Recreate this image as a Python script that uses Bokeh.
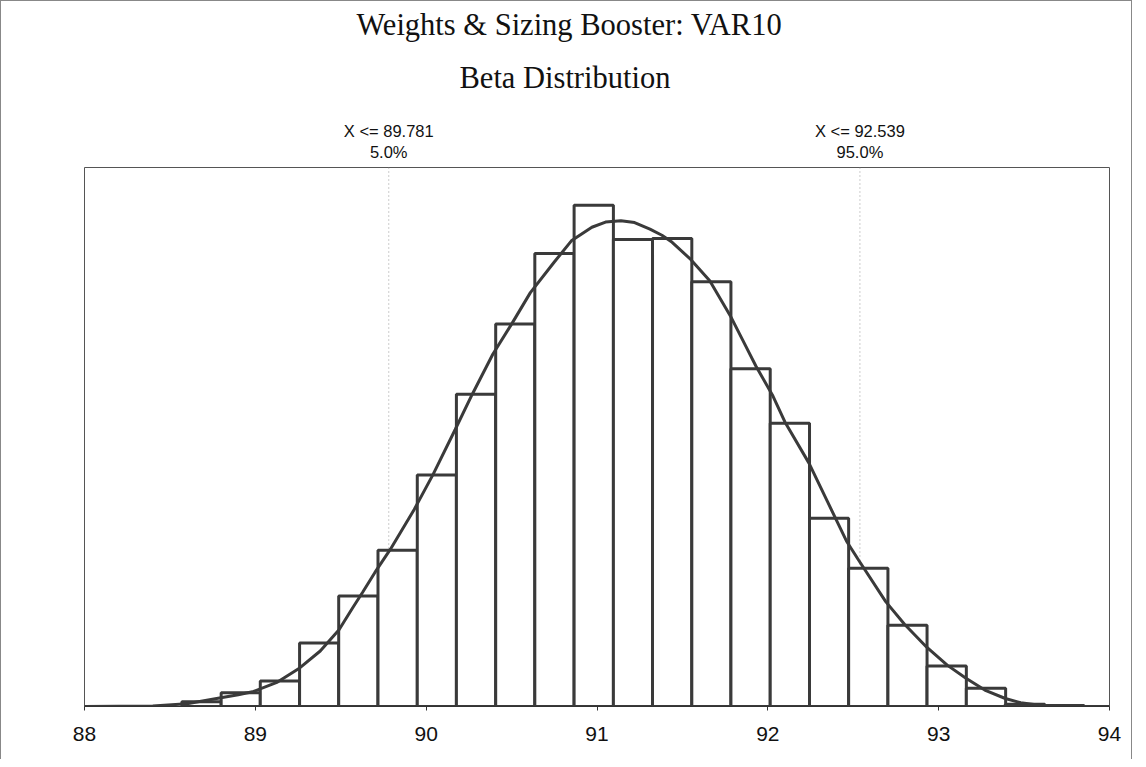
from bokeh.plotting import figure
from bokeh.models import Span, Range1d, FixedTicker, LinearAxis, Title
from bokeh.embed import file_html
from bokeh.resources import INLINE

# ---- data ----
bin_edges = [88.570, 88.800, 89.029, 89.259, 89.488, 89.718, 89.948, 90.177,
             90.407, 90.636, 90.866, 91.096, 91.325, 91.555, 91.784, 92.014,
             92.244, 92.473, 92.703, 92.932, 93.162, 93.392, 93.621, 93.851]
bin_freq = [0.10, 0.29, 0.54, 1.35, 2.35, 3.32, 4.92, 6.64, 8.13, 9.63, 10.66,
            9.93, 9.95, 9.03, 7.18, 6.02, 4.00, 2.94, 1.73, 0.86, 0.39, 0.05, 0.02]

curve_x = [88.0, 88.4, 88.6, 88.79, 88.9, 88.99, 89.13, 89.26, 89.38, 89.49,
           89.57, 89.63, 89.70, 89.79, 89.93, 90.04, 90.17, 90.27, 90.39, 90.50,
           90.61, 90.75, 90.85, 90.97, 91.05, 91.14, 91.22, 91.31, 91.38, 91.44,
           91.55, 91.66, 91.78, 91.85, 91.93, 92.03, 92.10, 92.24, 92.35, 92.46,
           92.53, 92.69, 92.80, 92.93, 93.05, 93.16, 93.27, 93.39, 93.48, 93.58,
           93.74, 94.0]
curve_y = [0.0, 0.01, 0.06, 0.18, 0.25, 0.32, 0.52, 0.82, 1.18, 1.63,
           2.10, 2.44, 2.85, 3.34, 4.19, 4.93, 5.89, 6.64, 7.49, 8.13,
           8.80, 9.45, 9.90, 10.19, 10.30, 10.33, 10.29, 10.15, 10.02, 9.87,
           9.50, 9.05, 8.31, 7.81, 7.24, 6.60, 6.05, 5.18, 4.35, 3.52,
           3.12, 2.23, 1.75, 1.26, 0.88, 0.60, 0.35, 0.17, 0.08, 0.03,
           0.0, 0.0]

x_ticks = [88, 89, 90, 91, 92, 93, 94]
quantiles = [89.781, 92.539]
quantile_text = ["X <= 89.781", "X <= 92.539"]
quantile_pct = ["5.0%", "95.0%"]
title_lines = ["Weights & Sizing Booster:  VAR10", "Beta Distribution"]

# ---- figure ----
W, H = 1132, 759
p = figure(width=W, height=H, output_backend="svg", toolbar_location=None,
           x_range=Range1d(88, 94), y_range=Range1d(0, 11.46),
           y_axis_location=None, min_border_left=83, min_border_right=24,
           min_border_top=166, min_border_bottom=54)
p.styles = {"border-left": "1px solid #888", "border-top": "1px solid #888",
            "border-right": "1px solid #888"}
p.xgrid.visible = False
p.ygrid.visible = False
p.outline_line_color = "#555555"
p.outline_line_width = 1
p.background_fill_color = "white"
p.border_fill_color = "white"

ax = p.xaxis[0]
ax.ticker = FixedTicker(ticks=x_ticks)
ax.minor_tick_line_color = None
ax.major_tick_in = 0
ax.major_tick_out = 4
ax.axis_line_color = "#333333"
ax.major_tick_line_color = "#333333"
ax.major_label_text_font = "Liberation Sans"
ax.major_label_text_font_size = "21px"
ax.major_label_text_color = "#111111"
ax.major_label_standoff = 16

# quantile labels as an axis above the frame
qax = LinearAxis(ticker=FixedTicker(ticks=quantiles),
                 major_label_overrides={q: t + "\n" + pc for q, t, pc in
                                        zip(quantiles, quantile_text, quantile_pct)})
qax.axis_line_color = None
qax.major_tick_line_color = None
qax.minor_tick_line_color = None
qax.major_label_text_font = "Liberation Sans"
qax.major_label_text_font_size = "16.5px"
qax.major_label_text_line_height = 1.15
qax.major_label_text_color = "#111111"
qax.major_label_standoff = 1
p.add_layout(qax, "above")

# titles (added bottom-up)
for txt, off, so in ((title_lines[1], 375, 48), (title_lines[0], 272, -15)):
    p.add_layout(Title(text=txt, align="left", offset=off,
                       text_font="Liberation Serif", text_font_size="30.5px",
                       text_font_style="normal", text_color="#111111",
                       standoff=so), "above")

# quantile dotted lines
for q in quantiles:
    p.add_layout(Span(location=q, dimension="height", line_color="#999999",
                      line_width=1, line_dash="1 3", level="underlay"))

# histogram bars
p.quad(left=bin_edges[:-1], right=bin_edges[1:], bottom=0, top=bin_freq,
       fill_color="white", line_color="#3a3a3a", line_width=3)

# fitted curve
p.line(curve_x, curve_y, line_color="#3a3a3a", line_width=3)

open("out.html", "w").write(file_html(p, INLINE))
